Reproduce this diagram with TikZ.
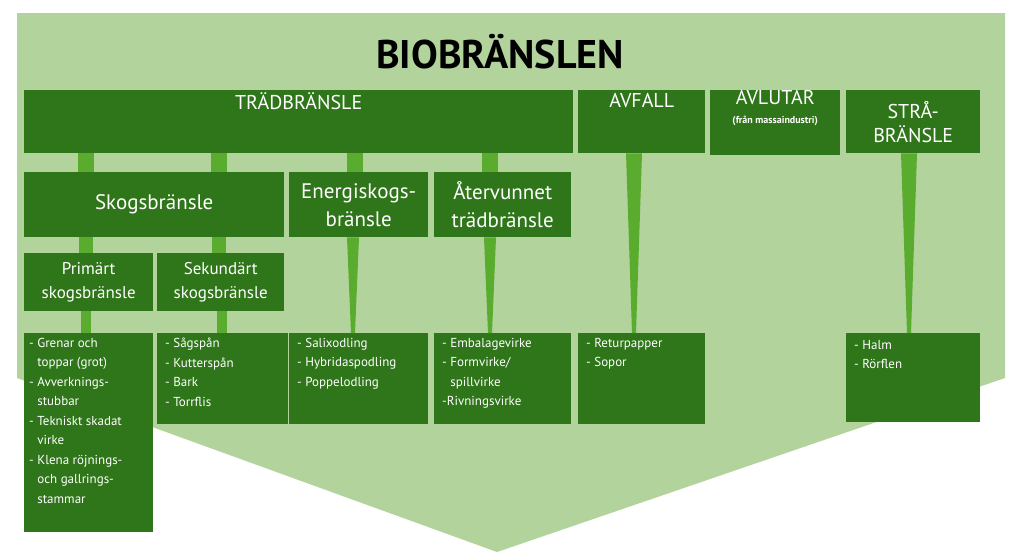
\documentclass[tikz,border=0pt]{standalone}
\usepackage{fontspec}
\setmainfont{PT Sans}
\usetikzlibrary{positioning}
\definecolor{bgreen}{HTML}{B3D39C}
\definecolor{dgreen}{HTML}{2F7519}
\definecolor{lgreen}{HTML}{5AAC2E}
\tikzset{
  box/.style={fill=dgreen,text=white,inner sep=0pt,align=center,anchor=north west},
  items/.style={text=white,inner sep=0pt,align=left,anchor=north west,font=\fontsize{13}{19.5}\selectfont},
  bar/.style={fill=lgreen}
}
\newcommand{\hg}{\phantom{- }}
\begin{document}
\begin{tikzpicture}[x=1pt,y=-1pt]
  \useasboundingbox (0,0) rectangle (1024,557);
  % background arrow
  \fill[bgreen] (17,13) -- (1005,13) -- (1005,378) -- (497,552) -- (17,378) -- cycle;
  \node[font=\fontsize{40}{40}\selectfont\bfseries] (title) at (500,52) {BIOBRÄNSLEN};
  % level 1
  \node[box,minimum width=549,minimum height=63,font=\fontsize{20}{22}\selectfont] (trad) at (24,90) {TRÄDBRÄNSLE\\[20pt]};
  \node[box,minimum width=127,minimum height=63,font=\fontsize{20}{22}\selectfont] (avf) at (578,90) {AVFALL\\[20pt]};
  \node[box,minimum width=130,minimum height=63,font=\fontsize{20}{22}\selectfont] (avl) at (710,90) {AVLUTAR\\[-3pt]{\fontsize{10}{11}\selectfont\bfseries (från massaindustri)}\\[10pt]};
  \node[box,minimum width=134,minimum height=63,font=\fontsize{20}{24}\selectfont] (stra) at (846,90) {STRÅ-\\BRÄNSLE};
  % level 2
  \node[box,minimum width=260,minimum height=65,font=\fontsize{21}{24}\selectfont] (skog) at (24,172) {Skogsbränsle};
  \node[box,minimum width=139,minimum height=65,font=\fontsize{21}{28}\selectfont] (ene) at (289,172) {Energiskogs-\\bränsle};
  \node[box,minimum width=137,minimum height=65,font=\fontsize{21}{28}\selectfont] (ater) at (434,172) {Återvunnet\\trädbränsle};
  % level 3
  \node[box,minimum width=129,minimum height=58,font=\fontsize{17}{24}\selectfont] (prim) at (24,253) {Primärt\\skogsbränsle};
  \node[box,minimum width=127,minimum height=58,font=\fontsize{17}{24}\selectfont] (sek) at (157,253) {Sekundärt\\skogsbränsle};
  % item boxes
  \node[box,minimum width=129,minimum height=199] (b1) at (24,333) {};
  \node[box,minimum width=131,minimum height=91] (b2) at (157,333) {};
  \node[box,minimum width=139,minimum height=91] (b3) at (289,333) {};
  \node[box,minimum width=137,minimum height=91] (b4) at (434,333) {};
  \node[box,minimum width=127,minimum height=91] (b5) at (578,333) {};
  \node[box,minimum width=134,minimum height=89] (b6) at (846,333) {};
  \node[items] at ([shift={(5,5)}]b1.north west) {- Grenar och\\\hg toppar (grot)\\- Avverknings-\\\hg stubbar\\- Tekniskt skadat\\\hg virke\\- Klena röjnings-\\\hg och gallrings-\\\hg stammar};
  \node[items] at ([shift={(8,5)}]b2.north west) {- Sågspån\\- Kutterspån\\- Bark\\- Torrflis};
  \node[items] at ([shift={(8,5)}]b3.north west) {- Salixodling\\- Hybridaspodling\\- Poppelodling};
  \node[items] at ([shift={(8,5)}]b4.north west) {- Embalagevirke\\- Formvirke/\\\hg spillvirke\\-Rivningsvirke};
  \node[items] at ([shift={(8,5)}]b5.north west) {- Returpapper\\- Sopor};
  \node[items] at ([shift={(8,7)}]b6.north west) {- Halm\\- Rörflen};
  % straight bars
  \foreach \xb in {86,219,355,490}
    \fill[bar] (\xb-8,0 |- trad.south) rectangle (\xb+8,0 |- skog.north);
  \foreach \xb in {86,219}
    \fill[bar] (\xb-7,0 |- skog.south) rectangle (\xb+7,0 |- prim.north);
  \fill[bar] (86-5,0 |- prim.south) rectangle (86+5,0 |- b1.north);
  \fill[bar] (222-5,0 |- sek.south) rectangle (222+5,0 |- b2.north);
  % tapered bars
  \fill[bar] (347,0 |- ene.south) -- (359,0 |- ene.south) -- (355,0 |- b3.north) -- (351,0 |- b3.north) -- cycle;
  \fill[bar] (484,0 |- ater.south) -- (496,0 |- ater.south) -- (492,0 |- b4.north) -- (488,0 |- b4.north) -- cycle;
  \fill[bar] (626,0 |- avf.south) -- (642,0 |- avf.south) -- (636,0 |- b5.north) -- (632,0 |- b5.north) -- cycle;
  \fill[bar] (901,0 |- stra.south) -- (917,0 |- stra.south) -- (911,0 |- b6.north) -- (907,0 |- b6.north) -- cycle;
\end{tikzpicture}
\end{document}
